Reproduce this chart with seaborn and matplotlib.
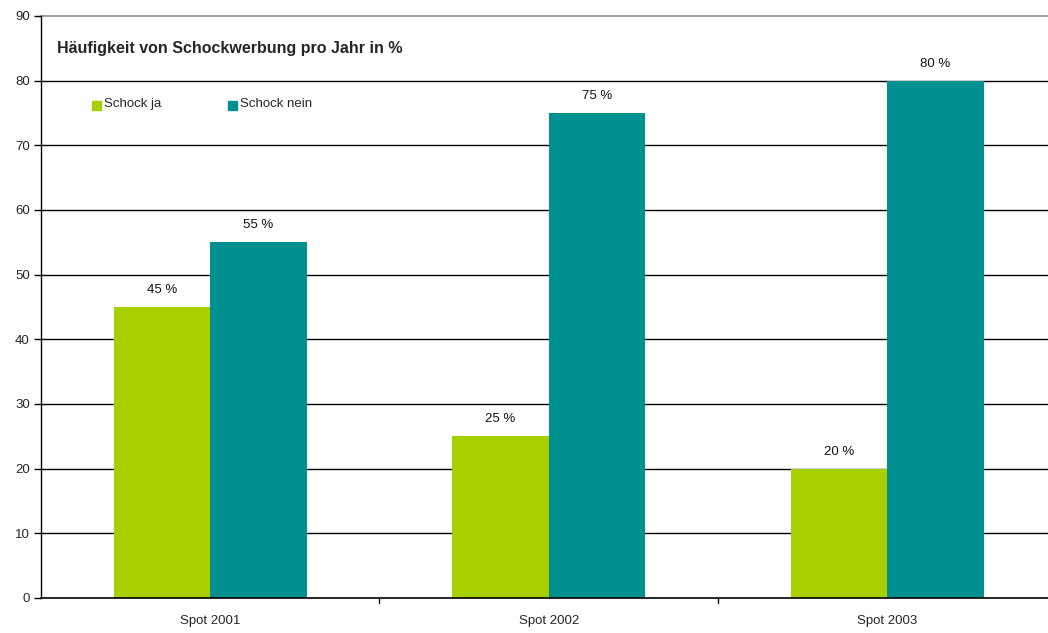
import matplotlib
matplotlib.use("Agg")
import matplotlib.pyplot as plt
import seaborn as sns
import pandas as pd
from matplotlib.patches import Rectangle

spots = ["Spot 2001", "Spot 2002", "Spot 2003"]
series = ["Schock ja", "Schock nein"]
schock_ja = [45, 25, 20]
schock_nein = [55, 75, 80]
colors = ["#A8D000", "#009090"]
y_ticks = [0, 10, 20, 30, 40, 50, 60, 70, 80, 90]

df = pd.DataFrame({
    "Spot": spots * 2,
    "Serie": [series[0]] * 3 + [series[1]] * 3,
    "Wert": schock_ja + schock_nein,
})

sns.set_style("white")
plt.rcParams["font.family"] = ["Liberation Sans", "DejaVu Sans"]

fig = plt.figure(figsize=(10.48, 6.33), dpi=100)
ax = fig.add_axes([41 / 1048, 35 / 633, 1007 / 1048, 582 / 633])

sns.barplot(data=df, x="Spot", y="Wert", hue="Serie", palette=colors,
            width=0.57, saturation=1, ax=ax, legend=False, errorbar=None)
for p in ax.patches:
    p.set_edgecolor("none")

for cont in ax.containers:
    ax.bar_label(cont, labels=[f"{int(v)} %" for v in cont.datavalues],
                 padding=8, fontsize=9.5, color="#111111")

ax.set_ylim(0, 90)
ax.set_xlim(-0.5, 2.475)
ax.set_yticks(y_ticks)
ax.set_yticklabels([str(t) for t in y_ticks], fontsize=9.5)
for t in y_ticks[1:-1]:
    ax.axhline(t, color="black", lw=1.0, zorder=0)
ax.axhline(90, color="#999999", lw=1.3, zorder=0, clip_on=False)

ax.set_xticks([0, 1, 2])
ax.set_xticklabels(spots, fontsize=9.5)
ax.tick_params(axis="x", length=0, pad=12)
ax.tick_params(axis="y", length=5, width=1, direction="out", color="black", pad=3, left=True)
for b in [0.5, 1.5]:
    ax.plot([b, b], [0, -0.008], transform=ax.get_xaxis_transform(),
            color="black", lw=1, clip_on=False)
ax.set_xlabel("")
ax.set_ylabel("")

for s in ["top", "right"]:
    ax.spines[s].set_visible(False)
ax.spines["left"].set_color("black")
ax.spines["bottom"].set_color("black")
ax.spines["left"].set_linewidth(1)
ax.spines["bottom"].set_linewidth(1.2)

fig.text(57 / 1048, 1 - 48 / 633, "Häufigkeit von Schockwerbung pro Jahr in %",
         fontsize=11.5, fontweight="bold", va="center", ha="left")

# legend entries
for x0, lbl, c in [(92, series[0], colors[0]), (228, series[1], colors[1])]:
    fig.patches.append(Rectangle((x0 / 1048, 1 - 110 / 633), 9 / 1048, 9 / 633,
                                 transform=fig.transFigure, color=c))
    fig.text((x0 + 12) / 1048, 1 - 104 / 633, lbl, fontsize=9.5,
             va="center", ha="left")

fig.savefig("out.png", dpi=100)
